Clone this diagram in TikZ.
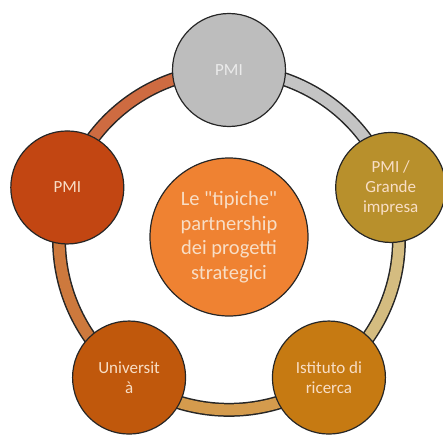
\documentclass[tikz,border=0pt]{standalone}
\usepackage{fontspec}
\setmainfont{Carlito}
\newfontfamily\straightquote{Carlito}
\usepackage{xcolor}
\usepackage{tikz}
\usetikzlibrary{positioning, backgrounds}
\definecolor{pmigray}{HTML}{BDBDBD}
\definecolor{pmired}{HTML}{C24612}
\definecolor{grandegold}{HTML}{B8902C}
\definecolor{istitutogold}{HTML}{C67A12}
\definecolor{univorange}{HTML}{C0580C}
\definecolor{centerorange}{HTML}{EF8232}
\definecolor{labelpeach}{HTML}{F8DEC6}

\begin{document}
\begin{tikzpicture}[
    x=1pt, y=1pt,
    ball/.style={
        circle,
        draw=black!85,
        line width=1.2pt,
        minimum size=113pt,
        inner sep=0pt,
        text=labelpeach,
        font=\fontsize{17}{20}\selectfont,
        align=center
    },
    ringline/.style={
        line width=14pt,
        draw=black!85,
        looseness=0.94
    },
    ringfill/.style={
        line width=11pt,
        looseness=0.94
    }
]
\useasboundingbox (-229,-194) rectangle (214,240);

% Center node
\node[ball, fill=centerorange, minimum size=158pt,
      font=\fontsize{20.5}{24.5}\selectfont] (partner) at (0,3)
    {Le {\straightquote"}tipiche{\straightquote"}\\partnership\\dei progetti\\strategici};

% Five partners round the ring
\node[ball, fill=pmigray, text=white!92!black] (pmitop) at (90:170) {PMI};
\node[ball, fill=grandegold, minimum size=110pt] (grande) at (18:170) {PMI /\\Grande\\impresa};
\node[ball, fill=istitutogold] (istituto) at (-54:170) {Istituto di\\ricerca};
\node[ball, fill=univorange] (universita) at (234:170) {Universit\\à};
\node[ball, fill=pmired] (pmileft) at (162:170) {PMI};

% Ring segments
\begin{scope}[on background layer]
\draw[ringline] (pmileft.center) to[bend left=36] (pmitop.center);
\draw[ringfill, draw=pmired!80!white] (pmileft.center) to[bend left=36] (pmitop.center);
\draw[ringline] (pmitop.center) to[bend left=36] (grande.center);
\draw[ringfill, draw=pmigray!90!white] (pmitop.center) to[bend left=36] (grande.center);
\draw[ringline] (grande.center) to[bend left=36] (istituto.center);
\draw[ringfill, draw=grandegold!60!white] (grande.center) to[bend left=36] (istituto.center);
\draw[ringline] (istituto.center) to[bend left=36] (universita.center);
\draw[ringfill, draw=istitutogold!75!white] (istituto.center) to[bend left=36] (universita.center);
\draw[ringline] (universita.center) to[bend left=36] (pmileft.center);
\draw[ringfill, draw=univorange!80!white] (universita.center) to[bend left=36] (pmileft.center);
\end{scope}

\end{tikzpicture}
\end{document}
